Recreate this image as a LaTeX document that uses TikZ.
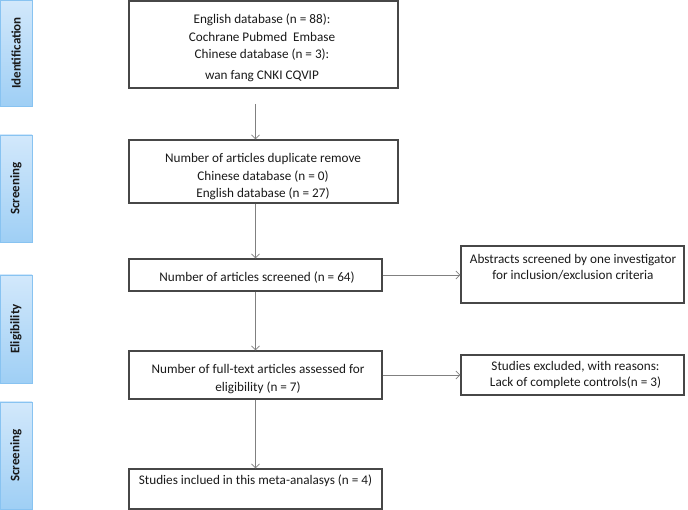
\documentclass[tikz,border=0pt]{standalone}
\usepackage{fontspec}
\setmainfont{Carlito}
\usetikzlibrary{arrows.meta}
\definecolor{stagelight}{HTML}{D2E8FB}
\definecolor{stagedark}{HTML}{9FCFF5}
\definecolor{stageline}{HTML}{88C3F1}
\begin{document}
\begin{tikzpicture}[x=1pt, y=-1pt,
    every node/.style={font=\fontsize{13.2}{17.5}\selectfont, inner sep=0pt},
    stage/.style={rotate=90, draw=stageline, line width=0.8pt, top color=stagelight, bottom color=stagedark,
      minimum height=32pt, text=black!90, font=\fontsize{13}{15}\selectfont\bfseries},
    box/.style={draw=black!72, line width=1.2pt},
    txt/.style={align=center, text=black!90},
    note/.style={align=center, text=black!90, font=\fontsize{13.2}{16}\selectfont},
    arr/.style={draw=black!50, line width=0.8pt, -{Straight Barb[length=4pt, width=8pt]}}]
        \useasboundingbox (0,0) rectangle (688,510);

        % stages on the left
        \node[stage, minimum width=106pt] (ident) at (16,53) {Identification};
        \node[stage, minimum width=107pt] (screen) at (16,188.5) {Screening};
        \node[stage, minimum width=108pt] (elig) at (16,329) {Eligibility};
        \node[stage, minimum width=107pt] (incl) at (16,455.5) {Screening};

        % main boxes
        \node[box, minimum width=269pt, minimum height=87pt] (b1) at (263.5,44.5) {};
        \node[box, minimum width=269pt, minimum height=63pt] (b2) at (263.5,171.5) {};
        \node[box, minimum width=253pt, minimum height=32pt] (b3) at (255.5,275) {};
        \node[box, minimum width=253pt, minimum height=48pt] (b4) at (255.5,375) {};
        \node[box, minimum width=253pt, minimum height=40pt] (b5) at (255.5,489) {};
        \node[box, minimum width=223pt, minimum height=57pt] (ra) at (572.5,274.5) {};
        \node[box, minimum width=223pt, minimum height=40pt] (rb) at (572.5,375) {};

        \node[txt] (b1txt) at (262,48) {English database (n = 88):\\Cochrane Pubmed\ \ Embase\\Chinese database (n = 3):\\[3.5pt]wan fang CNKI CQVIP};
        \node[txt] (b2txt) at (263,177) {Number of articles duplicate remove\\Chinese database (n = 0)\\English database (n = 27)};
        \node[txt] (b3txt) at (257,278) {Number of articles screened (n = 64)};
        \node[txt] (b4txt) at (258,379) {Number of full-text articles assessed for\\eligibility (n = 7)};
        \node[txt] (b5txt) at (255.5,481) {Studies inclued in this meta-analasys (n = 4)};
        \node[note] (ratxt) at (573,267) {Abstracts screened by one investigator\\for inclusion/exclusion criteria};
        \node[note] (rbtxt) at (575.5,375) {Studies excluded, with reasons:\\Lack of complete controls(n = 3)};

        % connectors
        \coordinate (a1) at (255.5,104);
        \draw[arr] (a1) -- (a1 |- b2.north);
        \draw[arr] (b2.south -| b3.north) -- (b3.north);
        \draw[arr] (b3.south) -- (b4.north);
        \draw[arr] (b4.south) -- (b5.north);
        \draw[arr] (b3.east) -- (ra.west |- b3.east);
        \draw[arr] (b4.east) -- (rb.west |- b4.east);
      \end{tikzpicture}
\end{document}
